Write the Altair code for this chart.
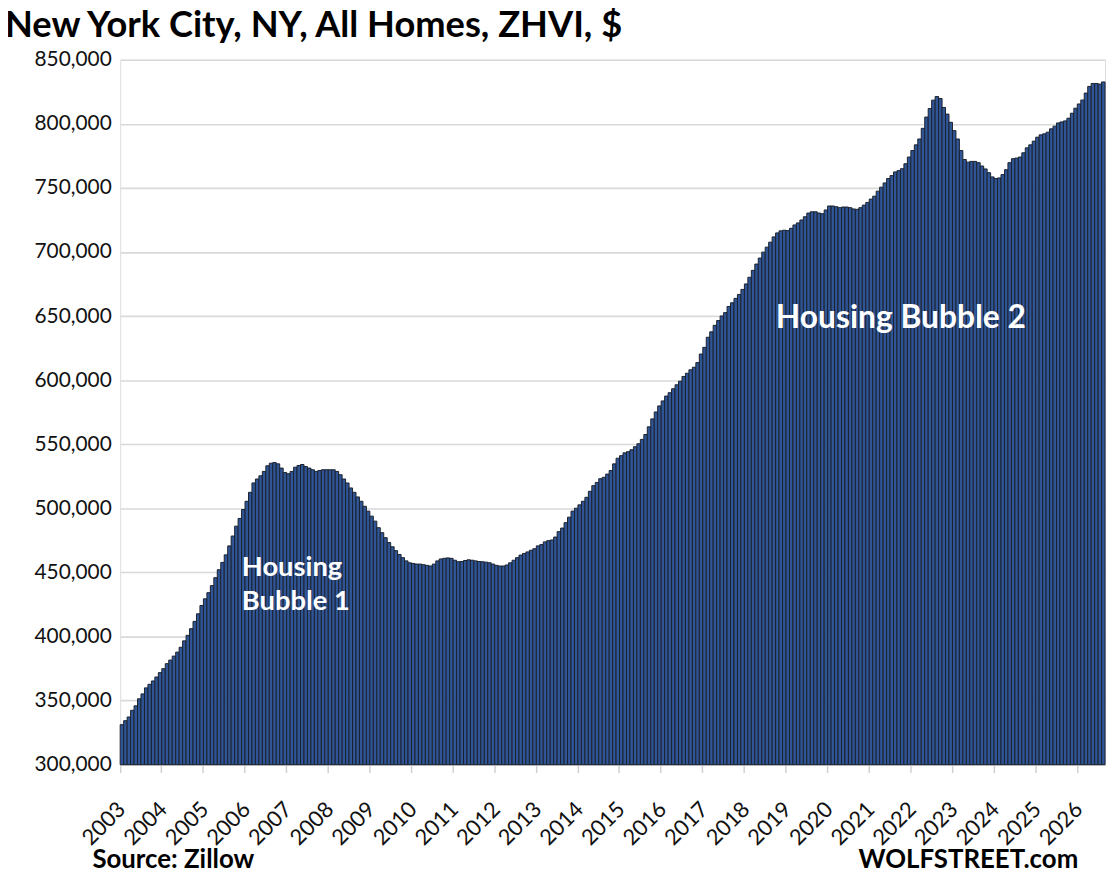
import altair as alt
import pandas as pd

# ZHVI, thousands of dollars, monthly from Jan 2003
values_k = [
    331.2, 334.3, 337.2, 342.4, 345.9, 351.4, 355.2, 359.9, 362.7, 365.3, 368.4, 371.8,
    374.9, 378.8, 381.6, 384.7, 387.8, 391.6, 396.6, 400.9, 406.1, 411.8, 417.7, 424.2,
    429.4, 434.2, 439.7, 445.9, 452.1, 457.8, 463.7, 470.7, 478.4, 486.1, 492.1, 499.1,
    505.5, 512.5, 519.8, 522.9, 525.4, 528.8, 533.2, 535.2, 535.7, 534.7, 531.4, 528.0,
    527.0, 528.8, 532.1, 533.4, 534.2, 532.6, 531.4, 530.1, 528.8, 529.5, 530.1, 530.1,
    530.1, 530.1, 528.8, 526.2, 522.9, 519.8, 515.9, 512.5, 508.9, 505.5, 501.6, 497.8,
    493.9, 490.0, 484.9, 481.0, 477.1, 473.3, 470.0, 467.0, 464.0, 461.5, 459.0, 457.5,
    457.0, 456.5, 456.5, 456.0, 455.5, 455.0, 456.5, 459.0, 460.5, 461.0, 461.3, 461.0,
    459.5, 458.3, 458.5, 459.3, 459.8, 459.5, 459.0, 458.5, 458.3, 458.0, 457.5, 456.5,
    455.5, 455.0, 455.0, 455.8, 457.5, 459.5, 461.5, 463.5, 464.8, 466.0, 467.3, 468.5,
    470.7, 471.7, 473.8, 474.8, 475.3, 477.6, 481.8, 484.6, 488.8, 493.1, 497.8, 500.1,
    502.7, 505.5, 508.6, 513.3, 517.7, 520.2, 523.1, 524.2, 526.7, 529.5, 534.7, 539.1,
    541.1, 543.3, 544.2, 545.7, 548.1, 550.4, 553.8, 557.6, 563.6, 569.8, 575.2, 579.9,
    583.8, 587.6, 590.2, 593.3, 596.4, 599.2, 602.9, 605.4, 608.1, 610.1, 613.7, 620.4,
    625.6, 633.5, 637.7, 642.8, 646.5, 650.1, 652.7, 657.5, 660.4, 663.8, 666.9, 670.8,
    675.1, 680.3, 685.7, 690.6, 695.3, 699.9, 703.8, 707.7, 711.8, 714.9, 716.5, 717.0,
    716.7, 718.5, 721.1, 722.7, 725.0, 727.5, 730.4, 731.4, 731.4, 730.4, 729.9, 732.8,
    735.9, 735.9, 735.3, 734.6, 735.1, 735.1, 734.6, 733.6, 733.3, 734.6, 736.6, 738.7,
    741.3, 743.6, 747.5, 750.6, 753.9, 757.3, 759.6, 762.5, 763.5, 765.0, 768.9, 774.1,
    779.2, 783.6, 788.2, 796.5, 805.3, 812.0, 818.5, 821.3, 819.8, 812.8, 807.6, 801.2,
    794.7, 788.2, 779.2, 772.2, 770.1, 770.7, 770.7, 769.7, 767.1, 764.8, 761.9, 758.6,
    757.3, 757.8, 760.4, 764.2, 769.7, 772.8, 773.3, 774.1, 777.4, 781.3, 783.6, 786.5,
    789.6, 791.4, 792.2, 793.5, 796.1, 798.2, 800.7, 801.5, 802.3, 804.4, 808.3, 812.2,
    815.5, 818.6, 824.0, 829.2, 831.5, 831.5, 831.0, 832.7,
]
start_year = 2003
years = list(range(2003, 2027))
y_ticks = list(range(300000, 850001, 50000))

title_text = "New York City, NY, All Homes, ZHVI, $"
source_text = "Source: Zillow"
brand_text = "WOLFSTREET.com"
annot_idx = [34, 34, 188]
annot_val = [453500, 426500, 648600]
annot_txt = ["Housing", "Bubble 1", "Housing Bubble 2"]
annot_size = [27.5, 27.5, 32]

df = pd.DataFrame({"idx": list(range(len(values_k))),
                   "value": [v * 1000 for v in values_k]})
ann = pd.DataFrame({"idx": annot_idx, "value": annot_val, "txt": annot_txt,
                    "size": annot_size})

FONT = "Lato"
W, H = 992, 710

xscale = alt.Scale(paddingInner=0, paddingOuter=0)
yscale = alt.Scale(domain=[300000, 850000], zero=False, nice=False)

jan_idx = [(y - start_year) * 12 for y in years]

bars = alt.Chart(df).mark_bar(
    color="#2F5597", stroke="#1b222d", strokeWidth=1
).encode(
    x=alt.X("idx:O", scale=xscale, title=None,
            axis=alt.Axis(values=jan_idx, bandPosition=0,
                          labelExpr=f"toString({start_year} + datum.value / 12)",
                          labelAngle=315, labelAlign="right", labelBaseline="middle",
                          labelFontSize=22, labelFont=FONT, labelColor="#111111",
                          labelPadding=33, labelOffset=0, tickSize=8,
                          tickColor="#d0d0d0",
                          tickWidth=1.5, domainColor="#d0d0d0", domainWidth=1.5,
                          grid=False, labelOverlap=False, labelFlush=False)),
    y=alt.Y("value:Q", scale=yscale, title=None,
            axis=alt.Axis(values=y_ticks, format=",d", labelFontSize=21,
                          labelFont=FONT, labelColor="#111111", labelPadding=9,
                          ticks=False, domain=False, grid=True,
                          gridColor="#d9d9d9", gridWidth=1.6)),
    y2=alt.datum(300000),
)

annots = alt.Chart(ann).mark_text(
    align="left", baseline="middle", font=FONT, fontWeight="bold", color="white", dx=2
).encode(
    x=alt.X("idx:O", scale=xscale),
    y=alt.Y("value:Q", scale=yscale),
    text="txt:N",
    size=alt.Size("size:Q", scale=None, legend=None),
)

title = alt.Chart(pd.DataFrame({"t": [title_text]})).mark_text(
    align="left", baseline="alphabetic", font=FONT, fontWeight="bold",
    fontSize=36.5, color="#000000"
).encode(x=alt.value(-116), y=alt.value(-23), text="t:N")

source = alt.Chart(pd.DataFrame({"t": [source_text]})).mark_text(
    align="left", baseline="alphabetic", font=FONT, fontWeight="bold",
    fontSize=26, color="#000000"
).encode(x=alt.value(-28), y=alt.value(814), text="t:N")

brand = alt.Chart(pd.DataFrame({"t": [brand_text]})).mark_text(
    align="right", baseline="alphabetic", font=FONT, fontWeight="bold",
    fontSize=26, color="#000000"
).encode(x=alt.value(965), y=alt.value(814), text="t:N")

chart = alt.layer(bars, annots, title, source, brand).properties(
    width=W, height=H,
    autosize=alt.AutoSizeParams(type="none"),
    padding={"left": 113, "top": 49, "right": 7, "bottom": 108},
).configure_view(stroke=None).configure(background="white")

chart.save("out.html", embed_options={"renderer": "svg", "actions": False})
